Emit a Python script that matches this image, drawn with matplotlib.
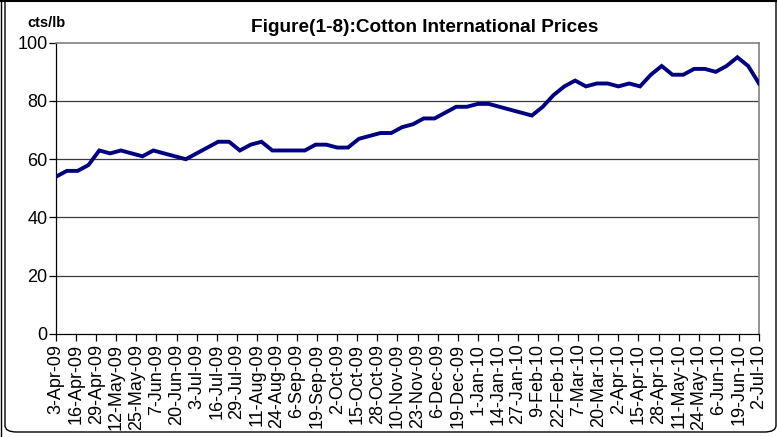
import matplotlib
matplotlib.use('Agg')
import matplotlib.pyplot as plt
import matplotlib.dates as mdates
from matplotlib.patches import FancyBboxPatch
from matplotlib.lines import Line2D
import numpy as np
import pandas as pd

plt.rcParams['font.family'] = ['Liberation Sans', 'DejaVu Sans']

# weekly cotton prices (cts/lb), 3-Apr-09 .. 2-Jul-10
start_date = '2009-04-03'
end_date = '2010-07-02'
prices = [54, 56, 56, 58, 63, 62, 63, 62, 61, 63,
          62, 61, 60, 62, 64, 66, 66, 63, 65, 66,
          63, 63, 63, 63, 65, 65, 64, 64, 67, 68,
          69, 69, 71, 72, 74, 74, 76, 78, 78, 79,
          79, 78, 77, 76, 75, 78, 82, 85, 87, 85,
          86, 86, 85, 86, 85, 89, 92, 89, 89, 91,
          91, 90, 92, 95, 92, 86]
dates = pd.date_range(start_date, periods=len(prices), freq='7D')
tick_dates = pd.date_range(start_date, end_date, freq='13D')
yticks = [0, 20, 40, 60, 80, 100]

title = 'Figure(1-8):Cotton International Prices'
unit = 'cts/lb'

W, H = 777, 437
fig = plt.figure(figsize=(W / 100, H / 100), dpi=100)
ax = fig.add_axes([56 / W, 1 - 334 / H, (759 - 56) / W, (334 - 42.7) / H])

for y in yticks[1:-1]:
    ax.axhline(y, color='#3a3a3a', lw=0.9, zorder=1)

ax.plot(dates, prices, color='#000080', lw=2.8, zorder=3, solid_joinstyle='miter')

ax.set_xlim(dates[0], pd.Timestamp(end_date))
ax.set_ylim(0, 100)
ax.set_yticks(yticks)
ax.set_xticks(tick_dates)
ax.xaxis.set_major_formatter(plt.FuncFormatter(
    lambda v, pos: '%d-%s' % (mdates.num2date(v).day, mdates.num2date(v).strftime('%b-%y'))))
ax.tick_params(axis='x', rotation=90, labelsize=13, length=5, width=0.9, direction='out', pad=2)
ax.tick_params(axis='y', labelsize=13, length=5, width=0.9, direction='out', pad=1)

for s in ['left', 'bottom']:
    ax.spines[s].set_color('black')
    ax.spines[s].set_linewidth(0.9)
for s in ['top', 'right']:
    ax.spines[s].set_color('#808080')
    ax.spines[s].set_linewidth(1.2)

fig.text(425 / W, 1 - 27 / H, title, ha='center', va='center', fontsize=13.7, fontweight='bold')
fig.text(27 / W, 1 - 23 / H, unit, ha='left', va='center', fontsize=10.5, fontweight='bold')

# chart frame
frame = FancyBboxPatch((5 / W, 5 / H), 771 / W, 440 / H,
                       boxstyle='round,pad=0,rounding_size=0.015',
                       transform=fig.transFigure, fill=False, ec='black', lw=1.0)
fig.patches.append(frame)
fig.lines.append(Line2D([0, 1], [1 - 1 / H, 1 - 1 / H], transform=fig.transFigure, color='black', lw=1.5))
fig.lines.append(Line2D([1 / W, 1 / W], [0, 1], transform=fig.transFigure, color='black', lw=1.0))

fig.savefig('out.png', dpi=100)
